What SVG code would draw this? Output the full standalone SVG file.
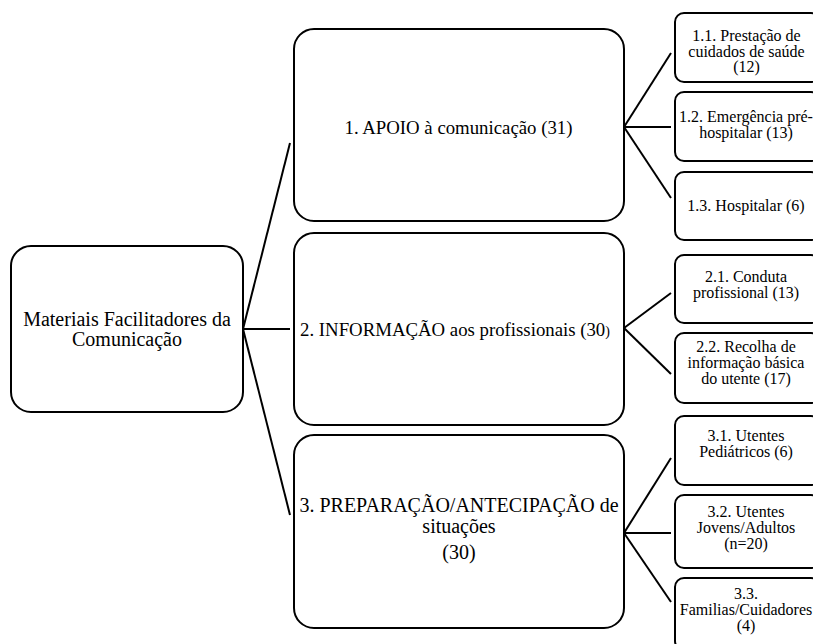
<svg xmlns="http://www.w3.org/2000/svg" width="813" height="644" viewBox="0 0 813 644">
<style>
.box{fill:#fff;stroke:#000;stroke-width:2}
.conn line{stroke:#000;stroke-width:2}
text{fill:#000;text-anchor:middle}
.t0{font-size:20px}
.t1{font-size:18.8px}
.t3{font-size:20px}
.t2{font-size:16px}
</style>
<rect width="813" height="644" fill="#fff"/>
<g id="connectors" class="conn">
<line x1="243" y1="329" x2="290" y2="143"/>
<line x1="243" y1="329" x2="290" y2="329"/>
<line x1="243" y1="329" x2="290" y2="515"/>
<line x1="624" y1="127" x2="671" y2="53"/>
<line x1="624" y1="127" x2="671" y2="127"/>
<line x1="624" y1="127" x2="671" y2="198"/>
<line x1="624" y1="328" x2="671" y2="293"/>
<line x1="624" y1="328" x2="671" y2="374"/>
<line x1="624" y1="533" x2="671" y2="458"/>
<line x1="624" y1="533" x2="671" y2="533"/>
<line x1="624" y1="533" x2="671" y2="602"/>
</g>
<g font-family="Liberation Serif, Tinos, Times New Roman, DejaVu Serif, serif">
<g id="root">
<rect class="box" x="11" y="246" width="232" height="166" rx="20"/>
<text class="t0" x="127" y="326">Materiais Facilitadores da</text>
<text class="t0" x="127" y="346">Comunicação</text>
</g>
<g id="n1">
<rect class="box" x="294" y="29" width="330" height="192" rx="20"/>
<text class="t1" x="458.5" y="134">1. APOIO à comunicação (31)</text>
</g>
<g id="n2">
<rect class="box" x="294" y="233" width="330" height="192" rx="20"/>
<text class="t1" x="455" y="336">2. INFORMAÇÃO aos profissionais (30<tspan font-size="14">)</tspan></text>
</g>
<g id="n3">
<rect class="box" x="294" y="435" width="330" height="193" rx="20"/>
<text class="t3" x="459" y="512">3. PREPARAÇÃO/ANTECIPAÇÃO de</text>
<text class="t3" x="459" y="533">situações</text>
<text class="t3" x="459" y="559">(30)</text>
</g>
<g id="n11">
<rect class="box" x="675" y="13" width="145" height="69" rx="9"/>
<text class="t2" x="746.5" y="41">1.1. Prestação de</text>
<text class="t2" x="746.5" y="56.5">cuidados de saúde</text>
<text class="t2" x="746.5" y="72">(12)</text>
</g>
<g id="n12">
<rect class="box" x="675" y="92" width="145" height="69" rx="9"/>
<text class="t2" x="746" y="122">1.2. Emergência pré-</text>
<text class="t2" x="746" y="138">hospitalar (13)</text>
</g>
<g id="n13">
<rect class="box" x="675" y="172" width="145" height="68" rx="9"/>
<text class="t2" x="746" y="211">1.3. Hospitalar (6)</text>
</g>
<g id="n21">
<rect class="box" x="675" y="255" width="145" height="68" rx="9"/>
<text class="t2" x="746" y="282">2.1. Conduta</text>
<text class="t2" x="746" y="298">profissional (13)</text>
</g>
<g id="n22">
<rect class="box" x="675" y="333" width="145" height="70" rx="9"/>
<text class="t2" x="746" y="352">2.2. Recolha de</text>
<text class="t2" x="746" y="368">informação básica</text>
<text class="t2" x="746" y="384">do utente (17)</text>
</g>
<g id="n31">
<rect class="box" x="675" y="416" width="145" height="69" rx="9"/>
<text class="t2" x="746" y="441">3.1. Utentes</text>
<text class="t2" x="746" y="457">Pediátricos (6)</text>
</g>
<g id="n32">
<rect class="box" x="675" y="495" width="145" height="73" rx="9"/>
<text class="t2" x="746" y="517">3.2. Utentes</text>
<text class="t2" x="746" y="533">Jovens/Adultos</text>
<text class="t2" x="746" y="549">(n=20)</text>
</g>
<g id="n33">
<rect class="box" x="675" y="578" width="145" height="72" rx="9"/>
<text class="t2" x="746" y="599">3.3.</text>
<text class="t2" x="746" y="615">Familias/Cuidadores</text>
<text class="t2" x="746" y="631">(4)</text>
</g>
</g>
</svg>
